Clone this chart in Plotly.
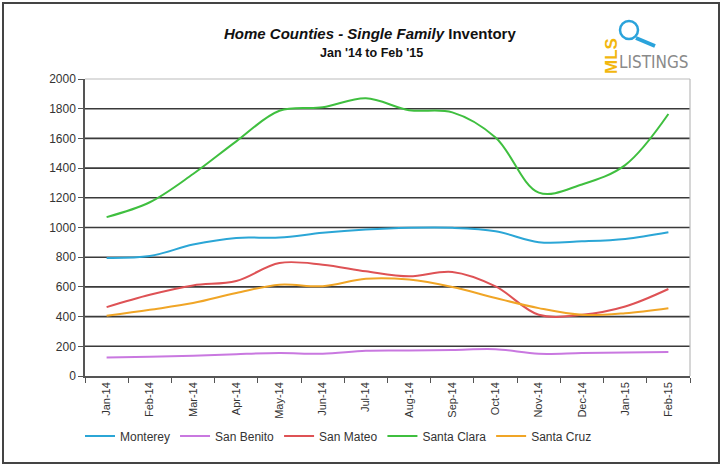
import plotly.graph_objects as go

months = ["Jan-14", "Feb-14", "Mar-14", "Apr-14", "May-14", "Jun-14", "Jul-14",
          "Aug-14", "Sep-14", "Oct-14", "Nov-14", "Dec-14", "Jan-15", "Feb-15"]
monterey = [795, 808, 885, 930, 932, 964, 986, 998, 998, 975, 901, 907, 923, 968]
san_benito = [124, 130, 136, 147, 155, 150, 170, 172, 175, 180, 150, 155, 158, 162]
san_mateo = [464, 547, 610, 640, 761, 750, 705, 671, 700, 603, 412, 412, 468, 586]
santa_clara = [1070, 1170, 1360, 1580, 1786, 1809, 1870, 1790, 1775, 1606, 1235, 1290, 1420, 1764]
santa_cruz = [405, 446, 491, 559, 615, 605, 655, 649, 599, 525, 457, 412, 423, 457]
y_ticks = [0, 200, 400, 600, 800, 1000, 1200, 1400, 1600, 1800, 2000]

series = [
    ("Monterey", monterey, "#2BA6D6"),
    ("San Benito", san_benito, "#C978E0"),
    ("San Mateo", san_mateo, "#DE5255"),
    ("Santa Clara", santa_clara, "#3FBF3F"),
    ("Santa Cruz", santa_cruz, "#F0A526"),
]

W, H = 722, 467
L, R, T, B = 85, 690, 79, 376

def px(x):
    return (x - L) / (R - L)

def py(y):
    return (B - y) / (B - T)

fig = go.Figure()
for name, vals, col in series:
    fig.add_trace(go.Scatter(x=months, y=vals, name=name, mode="lines",
                             line=dict(color=col, width=2, shape="spline", smoothing=1.0)))

shapes = []
for v in y_ticks[1:-1]:
    shapes.append(dict(type="line", xref="paper", yref="y", x0=0, x1=1, y0=v, y1=v,
                       line=dict(color="#3a3a3a", width=1.6), layer="below"))
shapes.append(dict(type="line", xref="paper", yref="paper", x0=0, x1=1, y0=1, y1=1,
                   line=dict(color="#bbbbbb", width=1.2), layer="below"))
shapes.append(dict(type="line", xref="paper", yref="paper", x0=1, x1=1, y0=0, y1=1,
                   line=dict(color="#bbbbbb", width=1.2), layer="below"))
shapes.append(dict(type="rect", xref="paper", yref="paper",
                   x0=px(3), x1=px(719), y0=py(463), y1=py(3),
                   line=dict(color="#444444", width=2), layer="below"))
shapes.append(dict(type="circle", xref="paper", yref="paper",
                   x0=px(620), x1=px(638), y0=py(39), y1=py(21),
                   line=dict(color="#2AA3DB", width=2.5)))
shapes.append(dict(type="line", xref="paper", yref="paper",
                   x0=px(636), x1=px(655), y0=py(38), y1=py(46),
                   line=dict(color="#2AA3DB", width=4)))

annotations = [
    dict(text="<b><i>Home Counties - Single Family</i> Inventory</b>", xref="paper", yref="paper",
         x=px(370), y=py(33), showarrow=False, font=dict(size=15, color="#111", family="Liberation Sans, Arial"),
         xanchor="center", yanchor="middle"),
    dict(text="<b>Jan '14 to Feb '15</b>", xref="paper", yref="paper",
         x=px(371), y=py(53), showarrow=False, font=dict(size=12.5, color="#111", family="Liberation Sans, Arial"),
         xanchor="center", yanchor="middle"),
    dict(text="<b>MLS</b>", xref="paper", yref="paper", textangle=-90,
         x=px(611), y=py(56), showarrow=False, font=dict(size=17, color="#F2B70F", family="Liberation Sans, Arial"),
         xanchor="center", yanchor="middle"),
    dict(text="LISTINGS", xref="paper", yref="paper",
         x=px(617), y=py(62), showarrow=False,
         font=dict(size=17, color="#8a8a8a", family="DejaVu Sans Condensed, Liberation Sans"),
         xanchor="left", yanchor="middle"),
]

fig.update_layout(
    width=W, height=H,
    margin=dict(l=L, r=W - R, t=T, b=H - B, pad=0),
    paper_bgcolor="white", plot_bgcolor="white",
    font=dict(family="Liberation Sans, Arial", size=11, color="#222"),
    showlegend=True,
    legend=dict(orientation="h", x=px(80), xanchor="left", y=py(436), yanchor="middle",
                font=dict(size=12, color="#333"), itemwidth=30, tracegroupgap=0,
                bgcolor="rgba(0,0,0,0)"),
    shapes=shapes,
    annotations=annotations,
    xaxis=dict(type="category", categoryorder="array", categoryarray=months,
               tickangle=-90, showgrid=False, showline=True, linecolor="#555", linewidth=1.5,
               ticks="outside", ticklen=5, tickcolor="#555", tickson="boundaries",
               tickfont=dict(size=11, color="#333"), automargin=False, zeroline=False,
               range=[-0.5, len(months) - 0.5]),
    yaxis=dict(range=[0, 2000], tickvals=y_ticks, showgrid=False, showline=True,
               linecolor="#555", linewidth=1.5, ticks="outside", ticklen=5, tickcolor="#555",
               tickfont=dict(size=12, color="#333"), automargin=False, zeroline=False),
)

fig.write_html("out.html")
